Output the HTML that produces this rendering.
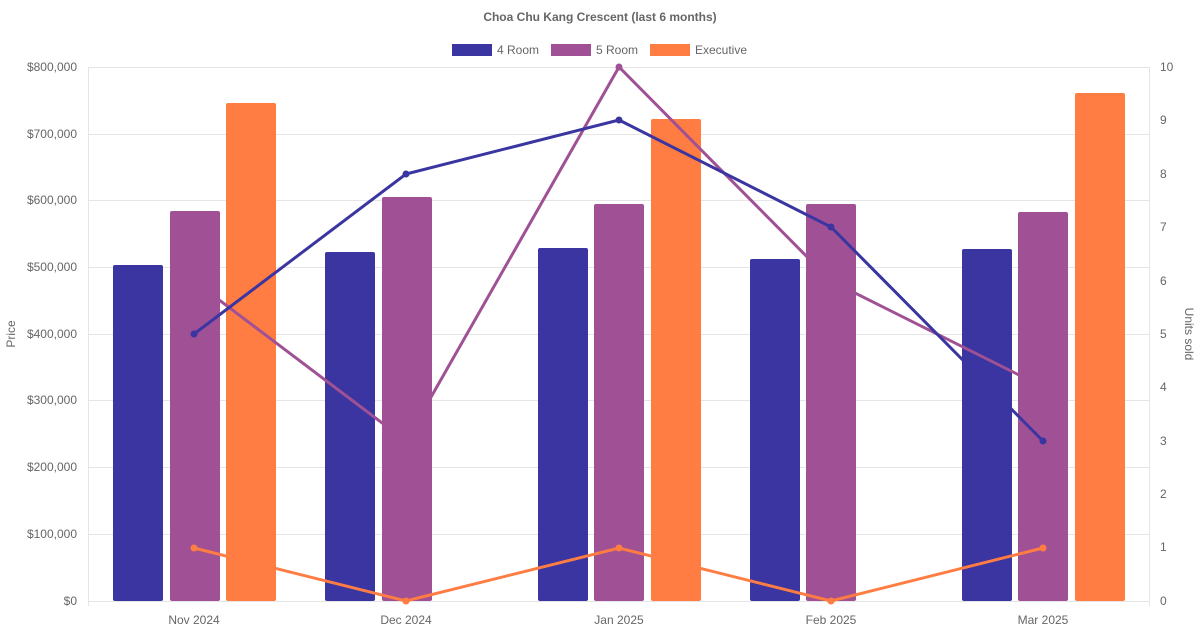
<!DOCTYPE html>
<html><head><meta charset="utf-8"><style>
html,body{margin:0;padding:0;background:#fff;}
svg{display:block;font-family:"Liberation Sans",sans-serif;}
</style></head><body>
<svg width="1200" height="630" viewBox="0 0 1200 630">
<text x="600" y="21" text-anchor="middle" font-size="12" font-weight="bold" fill="#666">Choa Chu Kang Crescent (last 6 months)</text>
<g font-size="12" fill="#666">
<rect x="452" y="44" width="40" height="12" fill="#3a35a0"/><text x="497" y="54">4 Room</text>
<rect x="551" y="44" width="40" height="12" fill="#a05195"/><text x="596" y="54">5 Room</text>
<rect x="650" y="44" width="40" height="12" fill="#ff7c43"/><text x="695" y="54">Executive</text>
</g>
<g stroke="#e5e5e5" stroke-width="1">
<line x1="88" y1="67.5" x2="1150" y2="67.5"/><line x1="88" y1="134.5" x2="1150" y2="134.5"/>
<line x1="88" y1="200.5" x2="1150" y2="200.5"/><line x1="88" y1="267.5" x2="1150" y2="267.5"/>
<line x1="88" y1="334.5" x2="1150" y2="334.5"/><line x1="88" y1="400.5" x2="1150" y2="400.5"/>
<line x1="88" y1="467.5" x2="1150" y2="467.5"/><line x1="88" y1="534.5" x2="1150" y2="534.5"/>
<line x1="88" y1="601.5" x2="1150" y2="601.5"/>
<line x1="88.5" y1="67" x2="88.5" y2="606"/><line x1="1149.5" y1="67" x2="1149.5" y2="606"/>
</g>
<g font-size="12" fill="#666" text-anchor="end">
<text x="77" y="71">$800,000</text><text x="77" y="138">$700,000</text><text x="77" y="204">$600,000</text>
<text x="77" y="271">$500,000</text><text x="77" y="338">$400,000</text><text x="77" y="404">$300,000</text>
<text x="77" y="471">$200,000</text><text x="77" y="538">$100,000</text><text x="77" y="605">$0</text>
</g>
<g font-size="12" fill="#666">
<text x="1160" y="71">10</text><text x="1160" y="124">9</text><text x="1160" y="178">8</text><text x="1160" y="231">7</text>
<text x="1160" y="285">6</text><text x="1160" y="338">5</text><text x="1160" y="391">4</text><text x="1160" y="445">3</text>
<text x="1160" y="498">2</text><text x="1160" y="551">1</text><text x="1160" y="605">0</text>
</g>
<g font-size="12" fill="#666" text-anchor="middle">
<text x="194" y="624">Nov 2024</text><text x="406" y="624">Dec 2024</text><text x="619" y="624">Jan 2025</text>
<text x="831" y="624">Feb 2025</text><text x="1043" y="624">Mar 2025</text>
</g>
<text transform="translate(15,334) rotate(-90)" text-anchor="middle" font-size="12" fill="#666">Price</text>
<text transform="translate(1185,334) rotate(90)" text-anchor="middle" font-size="12" fill="#666">Units sold</text>
<g fill="#3a35a0">
<rect x="113" y="265" width="50" height="336" rx="2"/><rect x="325" y="252" width="50" height="349" rx="2"/>
<rect x="538" y="248" width="50" height="353" rx="2"/><rect x="750" y="259" width="50" height="342" rx="2"/>
<rect x="962" y="249" width="50" height="352" rx="2"/>
</g>
<g fill="#a05195">
<rect x="170" y="211" width="50" height="390" rx="2"/><rect x="382" y="197" width="50" height="404" rx="2"/>
<rect x="594" y="204" width="50" height="397" rx="2"/><rect x="806" y="204" width="50" height="397" rx="2"/>
<rect x="1018" y="212" width="50" height="389" rx="2"/>
</g>
<g fill="#ff7c43">
<rect x="226" y="103" width="50" height="498" rx="2"/><rect x="651" y="119" width="50" height="482" rx="2"/>
<rect x="1075" y="93" width="50" height="508" rx="2"/>
</g>
<g fill="none" stroke-width="3">
<polyline stroke="#a05195" points="194,281 406,441 619,67 831,281 1043,387"/>
<polyline stroke="#3a35a0" points="194,334 406,174 619,120 831,227 1043,441"/>
<polyline stroke="#ff7c43" points="194,548 406,601 619,548 831,601 1043,548"/>
</g>
<g fill="#a05195"><circle cx="194" cy="281" r="3.5"/><circle cx="406" cy="441" r="3.5"/><circle cx="619" cy="67" r="3.5"/><circle cx="831" cy="281" r="3.5"/><circle cx="1043" cy="387" r="3.5"/></g>
<g fill="#3a35a0"><circle cx="194" cy="334" r="3.5"/><circle cx="406" cy="174" r="3.5"/><circle cx="619" cy="120" r="3.5"/><circle cx="831" cy="227" r="3.5"/><circle cx="1043" cy="441" r="3.5"/></g>
<g fill="#ff7c43"><circle cx="194" cy="548" r="3.5"/><circle cx="406" cy="601" r="3.5"/><circle cx="619" cy="548" r="3.5"/><circle cx="831" cy="601" r="3.5"/><circle cx="1043" cy="548" r="3.5"/></g>
</svg>
</body></html>
